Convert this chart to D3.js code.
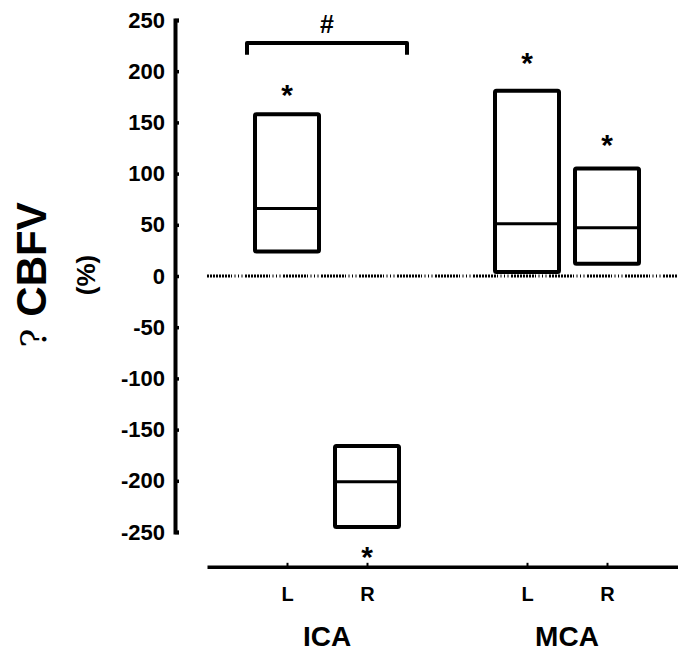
<!DOCTYPE html>
<html>
<head>
<meta charset="utf-8">
<script src="https://cdn.jsdelivr.net/npm/d3@7"></script>
<style>
	body { margin: 0; background: #fff; }
	svg { display: block; font-family: Arial, "Liberation Sans", sans-serif; }
</style>
</head>
<body>
<svg id="chart"></svg>
<script>
// floating box chart: change in CBFV (%) for ICA / MCA, left and right side
const sides = ["L", "R", "L", "R"];
const groups = ["ICA", "ICA", "MCA", "MCA"];
const slots = [0, 1, 3, 4];
const maxVals = [158, -166, 181, 105];
const medianVals = [66, -201, 51, 47];
const minVals = [24, -245, 4, 12];
const starVals = [182, -270, 213, 133];
const yTicks = [250, 200, 150, 100, 50, 0, -50, -100, -150, -200, -250];
const groupNames = ["ICA", "MCA"];
const groupSlots = [0.5, 3.5];

let width = 678;
let height = 653;
let boxWidth = 64;
let font = "Arial, 'Liberation Sans', sans-serif";

let svg = d3.select("#chart")
	.attr("width", width)
	.attr("height", height);

let scaleY = d3.scaleLinear()
	.domain([-250, 250])
	.range([532, 20]);

let scaleX = d3.scaleLinear()
	.domain([-1, 4.9])
	.range([207, 679]);

// y axis: ticks point right, labels on the left
let yAxis = g => g
	.attr("transform", "translate(175,0)")
	.call(d3.axisLeft(scaleY)
		.tickValues(yTicks)
		.tickFormat(d => String(d))
		.tickSizeInner(-4)
		.tickSizeOuter(-4)
		.tickPadding(10));

let yG = svg.append("g").call(yAxis);
yG.select(".domain").attr("stroke", "#000").attr("stroke-width", 4);
yG.selectAll(".tick line").attr("stroke", "#000").attr("stroke-width", 3.5);
yG.selectAll(".tick text")
	.attr("fill", "#000")
	.attr("font-size", 22)
	.attr("font-weight", "bold")
	.attr("font-family", font);

// x axis at the bottom, small ticks pointing up
let xAxis = g => g
	.attr("transform", "translate(0," + scaleY(-284) + ")")
	.call(d3.axisBottom(scaleX)
		.tickValues(slots)
		.tickFormat((d, i) => sides[i])
		.tickSizeInner(-4)
		.tickSizeOuter(0)
		.tickPadding(20));

let xG = svg.append("g").call(xAxis);
xG.select(".domain").attr("stroke", "#000").attr("stroke-width", 3.5);
xG.selectAll(".tick line").attr("stroke", "#000").attr("stroke-width", 2);
xG.selectAll(".tick text")
	.attr("fill", "#000")
	.attr("font-size", 20)
	.attr("font-weight", "bold")
	.attr("font-family", font);

// dotted zero line
let dash = [];
for (let i = 0; i < 8; i++) dash.push(2, 1);
for (let i = 0; i < 4; i++) dash.push(1, 2.5);
svg.append("line")
	.attr("x1", scaleX(-1))
	.attr("x2", width)
	.attr("y1", scaleY(0))
	.attr("y2", scaleY(0))
	.attr("stroke", "#000")
	.attr("stroke-width", 3)
	.attr("stroke-dasharray", dash.join(","));

// boxes
let boxes = svg.append("g")
	.attr("fill", "none")
	.attr("stroke", "#000")
	.attr("stroke-width", 4)
	.attr("stroke-linejoin", "round");

boxes.selectAll("rect")
	.data(slots)
	.join("rect")
	.attr("x", d => scaleX(d) - boxWidth / 2)
	.attr("y", (d, i) => scaleY(maxVals[i]))
	.attr("width", boxWidth)
	.attr("height", (d, i) => scaleY(minVals[i]) - scaleY(maxVals[i]))
	.attr("rx", 1.5);

boxes.selectAll("line")
	.data(slots)
	.join("line")
	.attr("x1", d => scaleX(d) - boxWidth / 2)
	.attr("x2", d => scaleX(d) + boxWidth / 2)
	.attr("y1", (d, i) => scaleY(medianVals[i]))
	.attr("y2", (d, i) => scaleY(medianVals[i]))
	.attr("stroke-width", 3);

// significance stars
svg.append("g")
	.selectAll("text")
	.data(slots)
	.join("text")
	.attr("x", d => scaleX(d))
	.attr("y", (d, i) => scaleY(starVals[i]) + 15)
	.attr("text-anchor", "middle")
	.attr("font-size", 30)
	.attr("font-weight", "bold")
	.text("*");

// bracket between ICA L and R
let bx1 = scaleX(slots[0] - 0.5);
let bx2 = scaleX(slots[1] + 0.5);
svg.append("path")
	.attr("d", "M" + bx1 + "," + scaleY(216) + "V" + scaleY(227.5) + "H" + bx2 + "V" + scaleY(216))
	.attr("fill", "none")
	.attr("stroke", "#000")
	.attr("stroke-width", 4)
	.attr("stroke-linejoin", "round");

svg.append("text")
	.attr("x", (bx1 + bx2) / 2)
	.attr("y", scaleY(246) + 9)
	.attr("text-anchor", "middle")
	.attr("font-size", 25)
	.attr("font-weight", "bold")
	.text("#");

// group labels
svg.append("g")
	.selectAll("text")
	.data(groupNames)
	.join("text")
	.attr("x", (d, i) => scaleX(groupSlots[i]))
	.attr("y", 646)
	.attr("text-anchor", "middle")
	.attr("font-size", 28)
	.attr("font-weight", "bold")
	.text(d => d);

// y axis title
let title = svg.append("text")
	.attr("transform", "translate(46,275) rotate(-90)")
	.attr("text-anchor", "middle");
title.append("tspan")
	.attr("font-family", "'DejaVu Serif', 'Liberation Serif', serif")
	.attr("font-size", 36)
	.text("?");
title.append("tspan")
	.attr("font-size", 42)
	.attr("font-weight", "bold")
	.text(" CBFV");

svg.append("text")
	.attr("transform", "translate(95,275) rotate(-90)")
	.attr("text-anchor", "middle")
	.attr("font-size", 26)
	.attr("font-weight", "bold")
	.text("(%)");
</script>
</body>
</html>
